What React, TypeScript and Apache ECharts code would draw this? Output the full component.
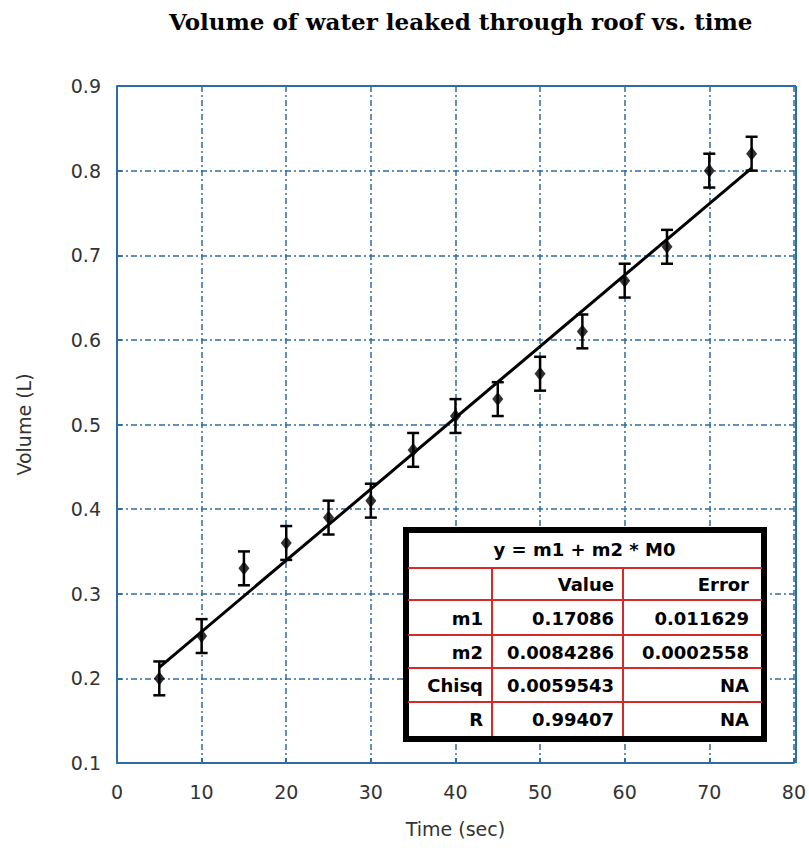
import React, { useEffect, useRef } from "react";
import * as echarts from "echarts";

const timeSec = [5, 10, 15, 20, 25, 30, 35, 40, 45, 50, 55, 60, 65, 70, 75];
const volumeL = [0.2, 0.25, 0.33, 0.36, 0.39, 0.41, 0.47, 0.51, 0.53, 0.56, 0.61, 0.67, 0.71, 0.8, 0.82];
const volumeErr = [0.02, 0.02, 0.02, 0.02, 0.02, 0.02, 0.02, 0.02, 0.02, 0.02, 0.02, 0.02, 0.02, 0.02, 0.02];
const fitTime = [5, 75];
const fitVolume = [0.213, 0.803];

const chartTitle = "Volume of water leaked through roof vs. time";
const xAxisName = "Time (sec)";
const yAxisName = "Volume (L)";

const tableTitle = "y = m1 + m2 * M0";
const tableHeader = ["", "Value", "Error"];
const tableRowLabels = ["m1", "m2", "Chisq", "R"];
const tableValues = ["0.17086", "0.0084286", "0.0059543", "0.99407"];
const tableErrors = ["0.011629", "0.0002558", "NA", "NA"];

export default function App() {
  const ref = useRef<HTMLDivElement>(null);
  useEffect(() => {
    if (!ref.current) return;
    const chart = echarts.init(ref.current, null, { renderer: "svg" });
    const blue = "#2e6ca4";
    const red = "#d42a2a";
    const tFont = "'DejaVu Sans', sans-serif";

    const tx0 = 407, tx1 = 762;
    const hLines = [568, 600, 635, 668, 702];
    const vLines = [492, 623];
    const rowY = [584, 618, 652, 685, 719];
    const colRight = [483, 614, 749];

    const graphics: any[] = [];
    graphics.push({
      type: "rect",
      shape: { x: 406, y: 530, width: 358, height: 209 },
      style: { fill: "#fff", stroke: "#000", lineWidth: 6 },
      z: 100,
    });
    hLines.forEach((y) =>
      graphics.push({ type: "line", shape: { x1: tx0 + 1, y1: y, x2: tx1, y2: y }, style: { stroke: red, lineWidth: 2 }, z: 101 })
    );
    vLines.forEach((x) =>
      graphics.push({ type: "line", shape: { x1: x, y1: hLines[0], x2: x, y2: 736 }, style: { stroke: red, lineWidth: 2 }, z: 101 })
    );
    graphics.push({
      type: "text",
      x: (tx0 + tx1) / 2,
      y: 549,
      style: { text: tableTitle, fill: "#000", font: `bold 18px ${tFont}`, textAlign: "center", textVerticalAlign: "middle" },
      z: 102,
    });
    tableHeader.forEach((h, i) => {
      if (!h) return;
      graphics.push({
        type: "text",
        x: colRight[i],
        y: rowY[0],
        style: { text: h, fill: "#000", font: `bold 18px ${tFont}`, textAlign: "right", textVerticalAlign: "middle" },
        z: 102,
      });
    });
    tableRowLabels.forEach((lab, r) => {
      const cells = [lab, tableValues[r], tableErrors[r]];
      cells.forEach((c, i) =>
        graphics.push({
          type: "text",
          x: colRight[i],
          y: rowY[r + 1],
          style: { text: c, fill: "#000", font: `bold 18px ${tFont}`, textAlign: "right", textVerticalAlign: "middle" },
          z: 102,
        })
      );
    });

    const errData = timeSec.map((t, i) => [t, volumeL[i] - volumeErr[i], volumeL[i] + volumeErr[i]]);

    chart.setOption({
      animation: false,
      backgroundColor: "#fff",
      title: {
        text: chartTitle,
        left: 164,
        top: 5,
        textStyle: { fontFamily: "'DejaVu Serif', serif", fontWeight: "bold", fontSize: 23, color: "#000" },
      },
      grid: { left: 117, right: 13, top: 86, bottom: 85 },
      xAxis: {
        type: "value",
        min: 0,
        max: 80,
        interval: 10,
        name: xAxisName,
        nameLocation: "middle",
        nameGap: 56,
        nameTextStyle: { fontFamily: tFont, fontSize: 19, color: "#333" },
        axisLine: { show: true, lineStyle: { color: blue, width: 2 } },
        axisTick: { show: true, inside: true, length: 5, lineStyle: { color: blue, width: 2 } },
        axisLabel: { margin: 19, fontFamily: tFont, fontSize: 19, color: "#333" },
        splitLine: { show: true, lineStyle: { color: blue, width: 1.5, type: [6, 3, 2, 3] } },
      },
      yAxis: {
        type: "value",
        min: 0.1,
        max: 0.9,
        interval: 0.1,
        name: yAxisName,
        nameLocation: "middle",
        nameGap: 84,
        nameTextStyle: { fontFamily: tFont, fontSize: 19, color: "#333" },
        axisLine: { show: true, lineStyle: { color: blue, width: 2 } },
        axisTick: { show: true, inside: true, length: 5, lineStyle: { color: blue, width: 2 } },
        axisLabel: { margin: 16, fontFamily: tFont, fontSize: 19, color: "#333", formatter: (v: number) => v.toFixed(1) },
        splitLine: { show: true, lineStyle: { color: blue, width: 1.5, type: [6, 3, 2, 3] } },
      },
      graphic: [
        { type: "line", shape: { x1: 117, y1: 86, x2: 796, y2: 86 }, style: { stroke: blue, lineWidth: 2 }, z: 50 },
        { type: "line", shape: { x1: 796, y1: 86, x2: 796, y2: 763 }, style: { stroke: blue, lineWidth: 2 }, z: 50 },
        ...graphics,
      ],
      series: [
        {
          type: "line",
          data: fitTime.map((t, i) => [t, fitVolume[i]]),
          symbol: "none",
          lineStyle: { color: "#000", width: 3 },
          z: 3,
        },
        {
          type: "custom",
          data: errData,
          renderItem: (params: any, api: any) => {
            const x = api.value(0);
            const lo = api.coord([x, api.value(1)]);
            const hi = api.coord([x, api.value(2)]);
            const cw = 6;
            const st = { stroke: "#000", lineWidth: 2.5 };
            return {
              type: "group",
              children: [
                { type: "line", shape: { x1: lo[0], y1: lo[1], x2: hi[0], y2: hi[1] }, style: st },
                { type: "line", shape: { x1: lo[0] - cw, y1: lo[1], x2: lo[0] + cw, y2: lo[1] }, style: st },
                { type: "line", shape: { x1: hi[0] - cw, y1: hi[1], x2: hi[0] + cw, y2: hi[1] }, style: st },
              ],
            };
          },
          z: 4,
        },
        {
          type: "scatter",
          data: timeSec.map((t, i) => [t, volumeL[i]]),
          symbol: "diamond",
          symbolSize: [11, 14],
          itemStyle: { color: "#000" },
          z: 5,
        },
      ],
    });
    return () => chart.dispose();
  }, []);
  return <div ref={ref} style={{ position: "fixed", left: 0, top: 0, width: 809, height: 848 }} />;
}
